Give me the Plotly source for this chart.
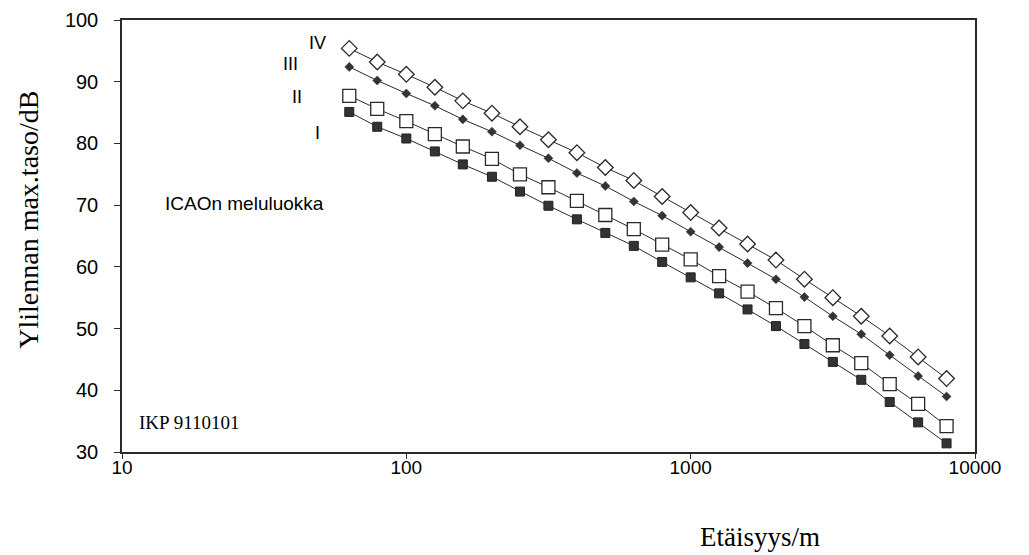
import numpy as np
import plotly.graph_objects as go

# Distance (m)
distance = [63, 79, 100, 126, 158, 200, 251, 316, 398, 501, 631, 794,
            1000, 1259, 1585, 1995, 2512, 3162, 3981, 5012, 6310, 7943]

# Max level (dB) per ICAO noise class
class_IV = [95.4, 93.2, 91.2, 89.1, 86.9, 84.9, 82.7, 80.6, 78.5, 76.1, 74.0, 71.4,
            68.8, 66.3, 63.7, 61.1, 58.0, 55.0, 52.0, 48.8, 45.4, 41.9]
class_III = [92.4, 90.2, 88.1, 86.1, 83.9, 81.9, 79.7, 77.6, 75.2, 73.1, 70.6, 68.3,
             65.7, 63.2, 60.6, 58.0, 55.1, 52.0, 49.1, 45.7, 42.3, 39.0]
class_II = [87.7, 85.6, 83.6, 81.5, 79.5, 77.5, 75.0, 72.9, 70.7, 68.4, 66.1, 63.6,
            61.2, 58.5, 56.0, 53.3, 50.4, 47.3, 44.4, 41.0, 37.8, 34.2]
class_I = [85.1, 82.7, 80.8, 78.7, 76.6, 74.6, 72.2, 69.9, 67.7, 65.5, 63.4, 60.8,
           58.3, 55.7, 53.1, 50.4, 47.5, 44.6, 41.7, 38.1, 34.8, 31.4]

x_ticks = [10, 100, 1000, 10000]
y_ticks = [30, 40, 50, 60, 70, 80, 90, 100]

INK = "#2a2a2a"

fig = go.Figure()

fig.add_trace(go.Scatter(
    x=distance, y=class_I, mode="lines+markers", name="I",
    line=dict(color=INK, width=1),
    marker=dict(symbol="square", size=9, color="#333333",
                line=dict(color="#222222", width=1))))
fig.add_trace(go.Scatter(
    x=distance, y=class_II, mode="lines+markers", name="II",
    line=dict(color=INK, width=1),
    marker=dict(symbol="square", size=13, color="white",
                line=dict(color=INK, width=1.3))))
fig.add_trace(go.Scatter(
    x=distance, y=class_III, mode="lines+markers", name="III",
    line=dict(color=INK, width=1),
    marker=dict(symbol="diamond", size=7, color="#333333",
                line=dict(color="#333333", width=0.5))))
fig.add_trace(go.Scatter(
    x=distance, y=class_IV, mode="lines+markers", name="IV",
    line=dict(color=INK, width=1),
    marker=dict(symbol="diamond", size=12, color="white",
                line=dict(color=INK, width=1.3))))

sans = "Liberation Sans, Arial, sans-serif"
serif = "Liberation Serif, Times New Roman, serif"

labels = [("IV", 1.689, 96.3), ("III", 1.591, 92.9), ("II", 1.616, 87.5), ("I", 1.686, 81.7)]
for txt, lx, ly in labels:
    fig.add_annotation(x=lx, y=ly, xref="x", yref="y", text=txt, showarrow=False,
                       font=dict(family=sans, size=18, color="black"))

fig.add_annotation(x=1.144, y=70.2, xref="x", yref="y", text="ICAOn meluluokka",
                   showarrow=False, xanchor="left",
                   font=dict(family=sans, size=19, color="black"))
fig.add_annotation(x=1.053, y=34.8, xref="x", yref="y", text="IKP 9110101",
                   showarrow=False, xanchor="left",
                   font=dict(family=serif, size=19, color="black"))

# axis titles placed as in the reference
fig.add_annotation(x=0.748, y=-0.197, xref="paper", yref="paper", text="Etäisyys/m",
                   showarrow=False, xanchor="center", yanchor="middle",
                   font=dict(family=serif, size=27, color="black"))
fig.add_annotation(x=-0.110, y=0.538, xref="paper", yref="paper",
                   text="Ylilennan max.taso/dB", textangle=-90,
                   showarrow=False, xanchor="center", yanchor="middle",
                   font=dict(family=serif, size=28, color="black"))

fig.update_layout(
    width=1029, height=555,
    margin=dict(l=114, r=62, t=12, b=111),
    paper_bgcolor="white", plot_bgcolor="white",
    showlegend=False,
    xaxis=dict(type="log", range=[1, 4], tickvals=x_ticks,
               ticktext=[str(v) for v in x_ticks], automargin=False,
               showgrid=False, zeroline=False,
               showline=True, linecolor=INK, linewidth=1.5, mirror=True,
               ticks="outside", ticklen=5, tickcolor=INK, tickwidth=1.2,
               ticklabelstandoff=-8,
               tickfont=dict(family=sans, size=19, color="black")),
    yaxis=dict(range=[30, 100], tickvals=y_ticks, automargin=False,
               showgrid=False, zeroline=False,
               showline=True, linecolor=INK, linewidth=1.5, mirror=True,
               ticks="outside", ticklen=6, tickcolor=INK, tickwidth=1.2,
               ticklabelstandoff=12,
               tickfont=dict(family=sans, size=20, color="black")),
)

fig.write_html("out.html")
